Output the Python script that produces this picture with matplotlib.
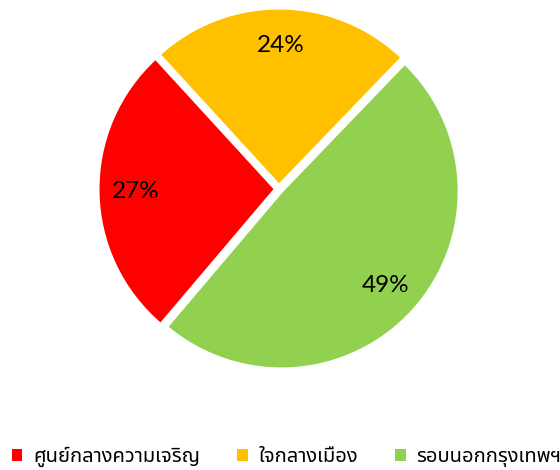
import numpy as np
import matplotlib
matplotlib.use("Agg")
import matplotlib.pyplot as plt
from matplotlib import font_manager
from matplotlib.ft2font import FT2Font
from matplotlib.patches import Patch

# Dados do gráfico
categorias = ["ศูนย์กลางความเจริญ", "ใจกลางเมือง", "รอบนอกกรุงเทพฯ"]
percentuais = [27, 24, 49]
cores = ["#FF0000", "#FFC000", "#92D050"]

# Procura uma fonte instalada com glifos tailandeses
def fonte_tailandesa():
    preferidas = ["Noto Sans Thai", "Noto Sans Thai UI", "Loma", "Garuda", "Tlwg Typo", "Waree"]
    candidatas = []
    for f in font_manager.fontManager.ttflist:
        try:
            mapa = FT2Font(f.fname).get_charmap()
        except Exception:
            continue
        if 0x0E28 in mapa and 0x0E01 in mapa:
            candidatas.append(f.name)
    for nome in preferidas:
        if nome in candidatas:
            return nome
    return candidatas[0] if candidatas else "DejaVu Sans"

fonte_thai = fonte_tailandesa()

fig = plt.figure(figsize=(5.6, 4.7), dpi=100)
raio_px = 178
cx, cy = 279, 470 - 189
ax = fig.add_axes([(cx - raio_px) / 560, (cy - raio_px) / 470, 2 * raio_px / 560, 2 * raio_px / 470])

fatias, textos = ax.pie(percentuais, colors=cores, startangle=229.7, counterclock=False,
                        explode=[0.018, 0.018, 0.018], radius=1.0,
                        wedgeprops=dict(edgecolor="white", linewidth=2.5))
for fatia, p in zip(fatias, percentuais):
    ang = np.deg2rad((fatia.theta1 + fatia.theta2) / 2)
    cx_f, cy_f = fatia.center
    ax.text(cx_f + 0.79 * np.cos(ang), cy_f + 0.79 * np.sin(ang), f"{p}%",
            ha="center", va="center", fontsize=17.5, family=["Lato", "DejaVu Sans"])
ax.set_xlim(-1, 1)
ax.set_ylim(-1, 1)
ax.set_aspect("equal")
ax.axis("off")

# Legenda inferior
alcas = [Patch(facecolor=c, edgecolor="none") for c in cores]
fig.legend(alcas, categorias, loc="center left", bbox_to_anchor=(8 / 560, 1 - 457 / 470),
           ncol=3, frameon=False, handlelength=0.5, handleheight=0.5,
           handletextpad=0.55, columnspacing=1.85, borderaxespad=0, borderpad=0.2,
           prop=dict(family=[fonte_thai, "DejaVu Sans"], size=14.5))

fig.savefig("out.png", dpi=100)
